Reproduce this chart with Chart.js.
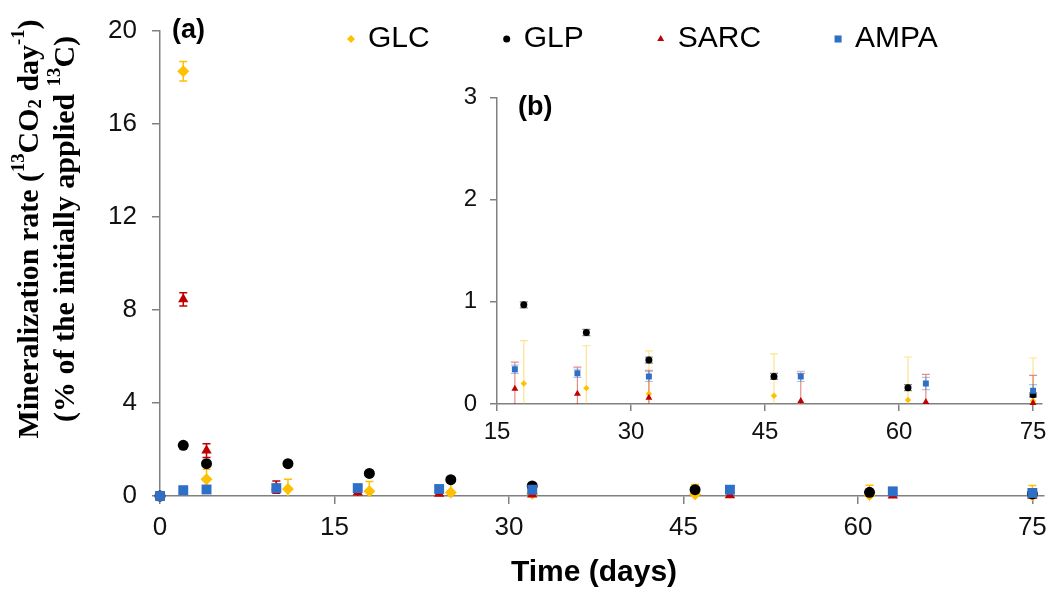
<!DOCTYPE html>
<html>
<head>
<meta charset="utf-8">
<title>Mineralization rate</title>
<script src="https://cdn.jsdelivr.net/npm/chart.js@4.4.1/dist/chart.umd.min.js"></script>
<style>
  body { margin: 0; background: #fff; }
  #wrap { position: relative; width: 1051px; height: 589px; }
  #main { position: absolute; left: 0; top: 0; }
  #inset { position: absolute; left: 430px; top: 70px; }
</style>
</head>
<body>
<div id="wrap">
  <canvas id="main" width="1051" height="589"></canvas>
  <canvas id="inset" width="621" height="390"></canvas>
</div>
<script>
// sampling days: GLC/GLP on one schedule, SARC/AMPA on the other
const daysGl = [0, 2, 4, 11, 18, 25, 32, 46, 61, 75];
const daysSa = [0, 2, 4, 10, 17, 24, 32, 49, 63, 75];

// mean rate (% of applied 13C per day) and standard deviation
const glcRate = [0, 18.25, 0.72, 0.3, 0.2, 0.155, 0.1, 0.08, 0.04, 0.03];
const glcSd = [0, 0.42, 0.43, 0.42, 0.42, 0.415, 0.42, 0.41, 0.42, 0.42];
const glpRate = [0, 2.18, 1.39, 1.39, 0.97, 0.7, 0.43, 0.27, 0.16, 0.09];
const glpSd = [0, 0.04, 0.04, 0.04, 0.03, 0.03, 0.03, 0.03, 0.03, 0.02];
const sarcRate = [0, 8.45, 1.95, 0.38, 0.15, 0.1, 0.06, 0.03, 0.02, 0.01];
const sarcSd = [0, 0.28, 0.3, 0.26, 0.26, 0.26, 0.27, 0.27, 0.27, 0.27];
const ampaRate = [0, 0.25, 0.28, 0.34, 0.34, 0.3, 0.27, 0.27, 0.2, 0.13];
const ampaSd = [0, 0.03, 0.03, 0.05, 0.04, 0.04, 0.05, 0.05, 0.06, 0.06];

const xTicksMain = [0, 15, 30, 45, 60, 75];
const yTicksMain = [0, 4, 8, 12, 16, 20];
const xTicksInset = [15, 30, 45, 60, 75];
const yTicksInset = [0, 1, 2, 3];

const sans = '"Liberation Sans", Arial, sans-serif';
const serif = '"Liberation Serif", "Times New Roman", serif';
const axisGrey = '#808080';

const series = [
  { label: 'GLC', days: daysGl, rate: glcRate, sd: glcSd, color: '#FFC000', faint: 'rgba(255,192,0,0.45)', style: 'rectRot', r: 6, ri: 3.2, rl: 4, order: 3 },
  { label: 'GLP', days: daysGl, rate: glpRate, sd: glpSd, color: '#000000', faint: 'rgba(90,90,90,0.7)', style: 'circle', r: 5.5, ri: 3.5, rl: 3.5, order: 1 },
  { label: 'SARC', days: daysSa, rate: sarcRate, sd: sarcSd, color: '#C00000', faint: 'rgba(192,0,0,0.45)', style: 'triangle', r: 6, ri: 4, rl: 4, order: 2 },
  { label: 'AMPA', days: daysSa, rate: ampaRate, sd: ampaSd, color: '#2E6FC8', faint: 'rgba(46,111,200,0.4)', style: 'rect', r: 7, ri: 4.2, rl: 5, order: 0 },
];

function makeDatasets(inset) {
  return series.map(s => ({
    label: s.label,
    data: s.days.map((d, i) => ({ x: d, y: s.rate[i] })),
    sd: s.sd,
    errorColor: inset ? s.faint : s.color,
    legendRadius: s.rl,
    pointStyle: s.style,
    pointRadius: inset ? s.ri : s.r,
    backgroundColor: s.color,
    borderColor: s.color,
    borderWidth: 0,
    order: s.order,
    clip: inset ? { left: 0, top: 10, right: 10, bottom: 10 } : false,
  }));
}

// vertical error bars with caps, clipped at the y range
const errorBars = {
  id: 'errorBars',
  beforeDatasetsDraw(chart, args, opts) {
    const { ctx, chartArea } = chart;
    const y = chart.scales.y;
    ctx.save();
    ctx.lineWidth = opts.lineWidth;
    chart.data.datasets.forEach((ds, di) => {
      chart.getDatasetMeta(di).data.forEach((pt, i) => {
        const sd = ds.sd[i];
        if (!sd || pt.x < chartArea.left - 1) return;
        const v = ds.data[i].y;
        const hiCut = v + sd > y.max, loCut = v - sd < y.min;
        const yHi = y.getPixelForValue(hiCut ? y.max : v + sd);
        const yLo = y.getPixelForValue(loCut ? y.min : v - sd);
        ctx.strokeStyle = ds.errorColor;
        ctx.beginPath();
        ctx.moveTo(pt.x, yHi);
        ctx.lineTo(pt.x, yLo);
        if (!hiCut) { ctx.moveTo(pt.x - opts.cap, yHi); ctx.lineTo(pt.x + opts.cap, yHi); }
        if (!loCut) { ctx.moveTo(pt.x - opts.cap, yLo); ctx.lineTo(pt.x + opts.cap, yLo); }
        ctx.stroke();
      });
    });
    ctx.restore();
  }
};

// draws a line of text whose parts may be raised or lowered (super/subscripts)
function drawRich(ctx, parts, size, cx, cy) {
  const fontFor = p => `bold ${p.s ? size * 0.62 : size}px ${serif}`;
  let total = 0;
  parts.forEach(p => { ctx.font = fontFor(p); p.w = ctx.measureText(p.t).width; total += p.w; });
  let x = cx - total / 2;
  parts.forEach(p => {
    ctx.font = fontFor(p);
    const dy = p.s > 0 ? -size * 0.36 : p.s < 0 ? size * 0.2 : 0;
    ctx.fillText(p.t, x, cy + dy);
    x += p.w;
  });
}

const mainDecor = {
  id: 'mainDecor',
  afterDraw(chart) {
    const { ctx } = chart;
    ctx.save();
    ctx.fillStyle = '#000';
    ctx.textBaseline = 'middle';

    // panel tag
    ctx.font = `bold 27px ${sans}`;
    ctx.textAlign = 'left';
    ctx.fillText('(a)', 172, 31);

    // legend row
    ctx.font = `30px ${sans}`;
    let x = 351;
    chart.data.datasets.forEach(ds => {
      ctx.fillStyle = ds.backgroundColor;
      Chart.helpers.drawPoint(ctx, { pointStyle: ds.pointStyle, radius: ds.legendRadius, rotation: 0, borderWidth: 0 }, x, 39);
      ctx.fillStyle = '#000';
      ctx.font = `30px ${sans}`;
      ctx.fillText(ds.label, x + 17, 39);
      x += 17 + ctx.measureText(ds.label).width + 77;
    });

    // x axis title
    ctx.font = `bold 30px ${sans}`;
    ctx.textAlign = 'center';
    ctx.fillText('Time (days)', 594, 573);

    // y axis title, rotated
    ctx.translate(0, 229);
    ctx.rotate(-Math.PI / 2);
    ctx.textAlign = 'left';
    drawRich(ctx, [
      { t: 'Mineralization rate (', s: 0 }, { t: '13', s: 1 }, { t: 'CO', s: 0 },
      { t: '2', s: -1 }, { t: ' day', s: 0 }, { t: '-1', s: 1 }, { t: ')', s: 0 }
    ], 30, 0, 30);
    drawRich(ctx, [
      { t: '(% of the initially applied ', s: 0 }, { t: '13', s: 1 }, { t: 'C)', s: 0 }
    ], 30, 0, 66);
    ctx.restore();
  }
};

const insetDecor = {
  id: 'insetDecor',
  afterDraw(chart) {
    const { ctx } = chart;
    ctx.save();
    ctx.fillStyle = '#000';
    ctx.textBaseline = 'middle';
    ctx.font = `bold 27px ${sans}`;
    ctx.fillText('(b)', 88, 38);
    ctx.restore();
  }
};

function axisOptions(o) {
  return {
    type: 'linear',
    min: o.min,
    max: o.max,
    afterBuildTicks: s => { s.ticks = o.ticks.map(v => ({ value: v })); },
    afterFit: s => {
      if (o.width) s.width = o.width;
      if (o.height) {
        // the end labels may overhang the plot edge, so keep the full width
        s.height = o.height;
        s.paddingLeft = 0;
        s.paddingRight = 0;
      }
    },
    grid: { drawOnChartArea: false, tickLength: o.tickLength, color: axisGrey, lineWidth: 1.5 },
    border: { color: axisGrey, width: 1.5 },
    ticks: { font: { family: sans, size: o.font }, color: '#111', padding: o.padding, maxRotation: 0, autoSkip: false },
  };
}

new Chart(document.getElementById('main'), {
  type: 'scatter',
  data: { datasets: makeDatasets(false) },
  options: {
    responsive: false,
    animation: false,
    layout: { padding: { top: 27, right: 4, left: 0, bottom: 0 } },
    scales: {
      x: axisOptions({ min: 0, max: 76, ticks: xTicksMain, height: 93, tickLength: 8, font: 26, padding: 8 }),
      y: axisOptions({ min: 0, max: 20, ticks: yTicksMain, width: 160, tickLength: 8, font: 26, padding: 15 }),
    },
    plugins: {
      legend: { display: false },
      tooltip: { enabled: false },
      errorBars: { lineWidth: 1.5, cap: 4 },
    },
  },
  plugins: [errorBars, mainDecor],
});

new Chart(document.getElementById('inset'), {
  type: 'scatter',
  data: { datasets: makeDatasets(true) },
  options: {
    responsive: false,
    animation: false,
    layout: { padding: { top: 27, right: 9, left: 0, bottom: 0 } },
    scales: {
      x: axisOptions({ min: 15, max: 76, ticks: xTicksInset, height: 56, tickLength: 7, font: 24, padding: 7 }),
      y: axisOptions({ min: 0, max: 3, ticks: yTicksInset, width: 67, tickLength: 7, font: 24, padding: 13 }),
    },
    plugins: {
      legend: { display: false },
      tooltip: { enabled: false },
      errorBars: { lineWidth: 1.2, cap: 4 },
    },
  },
  plugins: [errorBars, insetDecor],
});
</script>
</body>
</html>
